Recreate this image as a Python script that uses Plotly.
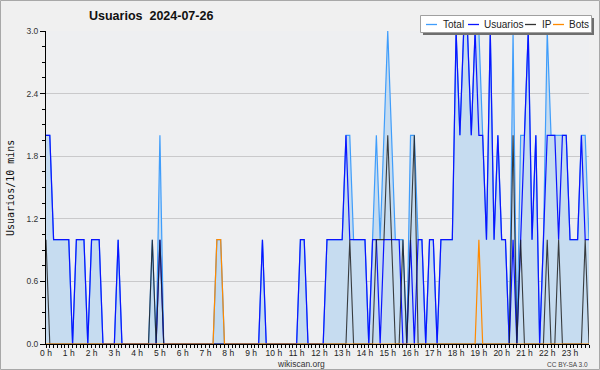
import plotly.graph_objects as go

# ---- data: one value per 10-minute slot (144 slots, 0 h .. 23 h 50) ----
usuarios = [2,2,1,1,1,1,1,0,1,1,1,0,
            1,1,1,0,0,0,0,1,0,0,0,0,
            0,0,0,0,0,0,1,0,0,0,0,0,
            0,0,0,0,0,0,0,0,0,0,0,0,
            0,0,0,0,0,0,0,0,0,1,0,0,
            0,0,0,0,0,0,0,1,1,0,0,0,
            0,0,1,1,1,1,1,2,1,1,1,1,
            1,0,1,1,0,1,1,1,1,1,0,0,
            1,0,1,1,0,1,1,0,1,1,1,1,
            3,2,3,3,2,3,2,2,1,3,1,2,
            1,1,0,1,0,1,2,3,1,2,0,1,
            2,2,2,1,2,2,1,1,1,2,1,1]
ip = [1,0,0,0,0,0,0,0,0,0,0,0,
      0,0,0,0,0,0,0,0,0,0,0,0,
      0,0,0,0,1,0,1,0,0,0,0,0,
      0,0,0,0,0,0,0,0,0,0,0,0,
      0,0,0,0,0,0,0,0,0,0,0,0,
      0,0,0,0,0,0,0,0,0,0,0,0,
      0,0,0,0,0,0,0,0,1,0,0,0,
      0,0,0,1,1,1,2,1,0,0,1,0,
      1,2,0,0,0,0,0,0,0,0,0,0,
      0,0,0,0,0,0,0,0,0,0,0,0,
      0,0,0,2,0,1,0,0,0,0,0,0,
      1,0,0,1,0,0,0,0,0,0,1,0]
bots = [0,0,0,0,0,0,0,0,0,0,0,0,
        0,0,0,0,0,0,0,0,0,0,0,0,
        0,0,0,0,0,0,0,0,0,0,0,0,
        0,0,0,0,0,0,0,0,0,1,1,0,
        0,0,0,0,0,0,0,0,0,0,0,0,
        0,0,0,0,0,0,0,0,0,0,0,0,
        0,0,0,0,0,0,0,0,0,0,0,0,
        0,0,0,0,0,0,0,0,0,0,0,0,
        0,0,0,0,0,0,0,0,0,0,0,0,
        0,0,0,0,0,0,1,0,0,0,0,0,
        0,0,0,0,0,0,0,0,0,0,0,0,
        0,0,0,0,0,0,0,0,0,0,0,0]
total = [2,2,1,1,1,1,1,0,1,1,1,0,
         1,1,1,0,0,0,0,1,0,0,0,0,
         0,0,0,0,1,0,2,0,0,0,0,0,
         0,0,0,0,0,0,0,0,0,1,1,0,
         0,0,0,0,0,0,0,0,0,1,0,0,
         0,0,0,0,0,0,0,1,1,0,0,0,
         0,0,1,1,1,1,1,2,2,1,1,1,
         1,0,1,2,1,2,3,2,1,1,1,0,
         2,2,1,1,0,1,1,0,1,1,1,1,
         3,2,3,3,2,3,3,2,1,3,1,2,
         1,1,0,3,0,2,2,3,1,2,0,1,
         3,2,2,2,2,2,1,1,1,2,2,1]
slots = list(range(144))
hour_vals = list(range(0, 144, 6))
hour_labels = [f"{h} h" for h in range(24)]
y_ticks = [0.0, 0.6, 1.2, 1.8, 2.4, 3.0]

W, H = 600, 370
L, R, T, B = 46, 11, 31, 26
PW, PH = W - L - R, H - T - B

def px(x):
    return (x - L) / PW

def py(y):
    return (H - B - y) / PH

C_TOTAL = "#3f9dfb"
C_USER = "#0a14ff"
C_IP = "rgba(30,30,30,0.85)"
C_BOTS = "#ff8a00"

fig = go.Figure()
fig.add_trace(go.Scatter(x=slots, y=total, mode="lines", name="Total",
                         line=dict(color=C_TOTAL, width=1.2),
                         fill="tozeroy", fillcolor="#c6dcf0"))
fig.add_trace(go.Scatter(x=slots, y=usuarios, mode="lines", name="Usuarios",
                         line=dict(color=C_USER, width=1.2)))
fig.add_trace(go.Scatter(x=slots, y=ip, mode="lines", name="IP",
                         line=dict(color=C_IP, width=1.1)))
fig.add_trace(go.Scatter(x=slots, y=bots, mode="lines", name="Bots",
                         line=dict(color=C_BOTS, width=1.2)))

shapes = []
annotations = []

# outer frame
shapes.append(dict(type="rect", xref="paper", yref="paper",
                   x0=px(0.5), x1=px(599.5), y0=py(0.5), y1=py(369.5),
                   line=dict(color="#a8a8a8", width=1), fillcolor="rgba(0,0,0,0)", layer="below"))

# legend box (shadow + box)
shapes.append(dict(type="rect", xref="paper", yref="paper",
                   x0=px(423), x1=px(594), y0=py(18), y1=py(35),
                   line=dict(width=0), fillcolor="#6e6e6e", layer="above"))
shapes.append(dict(type="rect", xref="paper", yref="paper",
                   x0=px(420.5), x1=px(591.5), y0=py(15.5), y1=py(32.5),
                   line=dict(color="#a0a0a0", width=1), fillcolor="#ffffff", layer="above"))
items = [("Total", C_TOTAL, 426, 441),
         ("Usuarios", C_USER, 468, 482),
         ("IP", "#333333", 525, 540),
         ("Bots", C_BOTS, 553, 567)]
for name, col, lx, tx in items:
    shapes.append(dict(type="line", xref="paper", yref="paper",
                       x0=px(lx), x1=px(lx + 11), y0=py(24.5), y1=py(24.5),
                       line=dict(color=col, width=1.3), layer="above"))
    annotations.append(dict(text=name, xref="paper", yref="paper",
                            x=px(tx), y=py(24.5), xanchor="left", yanchor="middle",
                            showarrow=False,
                            font=dict(family="Liberation Sans", size=10, color="#222222")))

# title
annotations.append(dict(text="<b>Usuarios\u00a0\u00a02024-07-26</b>", xref="paper", yref="paper",
                        x=px(151), y=py(16), xanchor="center", yanchor="middle",
                        showarrow=False,
                        font=dict(family="Liberation Sans", size=12.5, color="#111111")))
# y axis title
annotations.append(dict(text="Usuarios/10 mins", xref="paper", yref="paper",
                        x=px(10), y=py(188), xanchor="center", yanchor="middle",
                        textangle=-90, showarrow=False,
                        font=dict(family="DejaVu Sans Mono", size=10, color="#111111")))
# footer
annotations.append(dict(text="wikiscan.org", xref="paper", yref="paper",
                        x=px(301), y=py(363.5), xanchor="center", yanchor="middle",
                        showarrow=False,
                        font=dict(family="Liberation Sans", size=8.5, color="#333333")))
annotations.append(dict(text="CC BY-SA 3.0", xref="paper", yref="paper",
                        x=px(590), y=py(364), xanchor="right", yanchor="middle",
                        showarrow=False,
                        font=dict(family="Liberation Sans", size=6.5, color="#444444")))

fig.update_layout(
    width=W, height=H,
    margin=dict(l=L, r=R, t=T, b=B, pad=0),
    paper_bgcolor="#f0f0f0",
    plot_bgcolor="#eeeff1",
    showlegend=False,
    shapes=shapes,
    annotations=annotations,
    xaxis=dict(range=[0, 143], tickmode="array", tickvals=hour_vals, ticktext=hour_labels,
               showline=True, linecolor="#000000", linewidth=1,
               ticks="outside", ticklen=3, tickcolor="#000000", tickwidth=1,
               ticklabelstandoff=-2,
               minor=dict(dtick=1, tick0=0, ticks="outside", ticklen=3,
                          tickcolor="#000000", tickwidth=1, showgrid=False),
               showgrid=False, zeroline=False,
               tickfont=dict(family="Liberation Sans", size=8.5, color="#222222")),
    yaxis=dict(range=[0, 3], tickmode="array", tickvals=y_ticks,
               ticktext=[f"{v:.1f}" for v in y_ticks],
               showline=True, linecolor="#000000", linewidth=1,
               ticks="outside", ticklen=5, tickcolor="#000000", tickwidth=1,
               minor=dict(dtick=0.15, tick0=0, ticks="outside", ticklen=3,
                          tickcolor="#000000", tickwidth=1, showgrid=False),
               showgrid=True, gridcolor="#c9c9cb", gridwidth=1, zeroline=False,
               tickfont=dict(family="Liberation Sans", size=8.5, color="#333333")),
)

fig.write_html("out.html")
